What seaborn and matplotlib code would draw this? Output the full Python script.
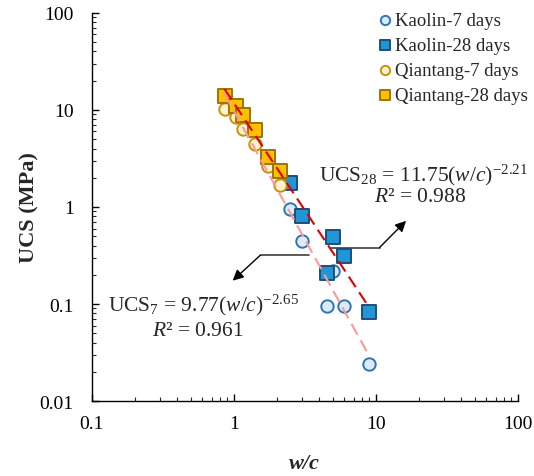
import numpy as np
import pandas as pd
import seaborn as sns
import matplotlib.pyplot as plt
from matplotlib.ticker import FuncFormatter, LogLocator

# Data (w/c, UCS in MPa)
kaolin_wc = [2.5, 3.0, 5.0, 4.5, 6.0, 9.0]
kaolin_7d = [0.95, 0.45, 0.22, 0.095, 0.095, 0.024]
kaolin_28d = [1.77, 0.81, 0.49, 0.21, 0.31, 0.082]

qiantang_wc = [0.86, 1.04, 1.15, 1.40, 1.74, 2.10]
qiantang_7d = [10.2, 8.4, 6.4, 4.45, 2.67, 1.69]
qiantang_28d = [14.0, 11.1, 8.95, 6.2, 3.25, 2.33]

# power-law fits printed on the chart
fit7 = (9.77, -2.65)
fit28 = (11.75, -2.21)
fit_range = [0.86, 9.0]

sns.set_style('ticks')
plt.rcParams['font.family'] = ['Liberation Serif', 'DejaVu Serif']
plt.rcParams['mathtext.fontset'] = 'custom'
plt.rcParams['mathtext.rm'] = 'Liberation Serif'
plt.rcParams['mathtext.it'] = 'Liberation Serif:italic'
plt.rcParams['mathtext.bf'] = 'Liberation Serif:bold'

fig = plt.figure(figsize=(5.34, 4.77), dpi=100)
ax = fig.add_axes([0.172, 0.157, 0.798, 0.814])

series = [
    ('Kaolin-7 days', kaolin_wc, kaolin_7d, 'o', '#DDEBF7', '#2E75B6', 80),
    ('Kaolin-28 days', kaolin_wc, kaolin_28d, 's', '#2196D6', '#1F4E79', 100),
    ('Qiantang-7 days', qiantang_wc, qiantang_7d, 'o', '#FFF2CC', '#C9900C', 80),
    ('Qiantang-28 days', qiantang_wc, qiantang_28d, 's', '#FFC000', '#9C7400', 100),
]
for label, xs, ys, mk, fc, ec, s in series:
    df = pd.DataFrame({'wc': xs, 'ucs': ys})
    sns.scatterplot(data=df, x='wc', y='ucs', marker=mk, color=fc, edgecolor=ec,
                    linewidth=1.4, s=s, label=label, ax=ax, zorder=3)

# fit lines
xf = np.array(fit_range)
ax.plot(xf, fit7[0] * xf ** fit7[1], color='#FF9999', lw=1.5, dashes=(6, 3), zorder=4)
ax.plot(xf, fit28[0] * xf ** fit28[1], color='#E00000', lw=1.5, dashes=(6, 3), zorder=4)

ax.set_xscale('log')
ax.set_yscale('log')
ax.set_xlim(0.1, 100)
ax.set_ylim(0.01, 100)
fmt = FuncFormatter(lambda v, p: '%g' % v)
ax.xaxis.set_major_formatter(fmt)
ax.yaxis.set_major_formatter(fmt)
ax.xaxis.set_minor_locator(LogLocator(base=10, subs=np.arange(2, 10)))
ax.yaxis.set_minor_locator(LogLocator(base=10, subs=np.arange(2, 10)))
ax.tick_params(which='major', direction='in', length=5, width=1, labelsize=14, colors='black')
ax.tick_params(which='minor', direction='in', length=3, width=0.8)
ax.tick_params(axis='x', pad=10)
ax.tick_params(axis='y', pad=13)
for sp in ['left', 'bottom']:
    ax.spines[sp].set_color('black')
    ax.spines[sp].set_linewidth(1)
sns.despine(ax=ax)

ax.set_xlabel('w/c', fontsize=16, fontweight='bold', style='italic', labelpad=15)
ax.set_ylabel('UCS (MPa)', fontsize=16, fontweight='bold', labelpad=0)

# equations
ax.text(4.0, 2.19, 'UCS$_{28}$ = 11.75($w/c$)$^{-2.21}$', fontsize=15.5, ha='left', va='center')
ax.text(20.6, 1.27, '$R$² = 0.988', fontsize=15.5, ha='center', va='center')
ax.text(0.129, 0.1, 'UCS$_{7}$ = 9.77($w/c$)$^{-2.65}$', fontsize=15.5, ha='left', va='center')
ax.text(0.56, 0.053, '$R$² = 0.961', fontsize=15.5, ha='center', va='center')

# callout arrows
ax.plot([4.84, 10.6], [0.382, 0.382], color='#404040', lw=1.2)
ax.annotate('', xy=(16.3, 0.72), xytext=(10.6, 0.382),
            arrowprops=dict(arrowstyle='-|>', color='black', lw=1.0, mutation_scale=16,
                            shrinkA=0, shrinkB=0))
ax.plot([3.40, 1.54], [0.32, 0.32], color='#404040', lw=1.2)
ax.annotate('', xy=(0.98, 0.174), xytext=(1.54, 0.32),
            arrowprops=dict(arrowstyle='-|>', color='black', lw=1.0, mutation_scale=16,
                            shrinkA=0, shrinkB=0))

ax.legend(loc='upper right', bbox_to_anchor=(1.016, 1.005), bbox_transform=fig.transFigure,
          frameon=False, fontsize=13.5, markerscale=0.75, handletextpad=0.05,
          handlelength=0.9, labelspacing=0.42, borderpad=0.3)

fig.savefig('out.png', dpi=100)
